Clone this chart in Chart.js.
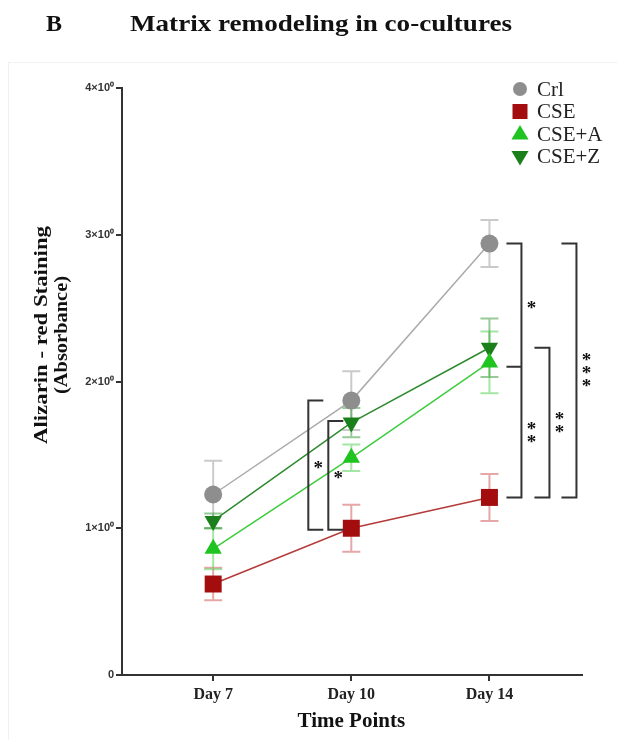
<!DOCTYPE html>
<html><head><meta charset="utf-8">
<script src="https://cdn.jsdelivr.net/npm/chart.js@4/dist/chart.umd.min.js"></script>
<style>html,body{margin:0;padding:0;background:#fff;}#wrap{width:617px;height:740px;position:relative}</style>
</head><body><div id="wrap"><canvas id="c" width="617" height="740"></canvas></div>
<script>
// ---- data ----
const days = ['Day 7', 'Day 10', 'Day 14'];
const seriesNames = ['Crl', 'CSE', 'CSE+A', 'CSE+Z'];
const crl = [1.23, 1.87, 2.94];
const crlErr = [0.23, 0.20, 0.16];
const cse = [0.62, 1.00, 1.21];
const cseErr = [0.11, 0.16, 0.16];
const cseA = [0.86, 1.48, 2.13];
const cseAErr = [0.14, 0.09, 0.21];
const cseZ = [1.05, 1.72, 2.23];
const cseZErr = [0.05, 0.10, 0.20];
const yTicks = [0, 1, 2, 3, 4];
const yTickLabels = ['0', '1×10⁰', '2×10⁰', '3×10⁰', '4×10⁰'];
// significance brackets
const sigDay = [1, 1, 2, 2, 2];
const sigTop = [1.87, 1.73, 2.94, 2.23, 2.94];
const sigBottom = [0.99, 0.99, 1.21, 1.21, 1.21];
const sigMid = [null, null, 2.10, null, null];
const sigLabels = [['*'], ['*'], ['*', '**'], ['**'], ['***']];
const titleText = 'Matrix remodeling in co-cultures';
const panelLetter = 'B';
const yTitleLines = ['Alizarin - red Staining', '(Absorbance)'];
const xTitle = 'Time Points';

// ---- styles ----
const colors = {
  Crl: {pt: '#8e8e8e', line: '#ababab', err: 'rgba(180,180,180,0.7)'},
  CSE: {pt: '#a30d0d', line: '#b53a3a', err: 'rgba(215,120,120,0.65)'},
  'CSE+A': {pt: '#20c420', line: '#3ccc3c', err: 'rgba(90,210,90,0.55)'},
  'CSE+Z': {pt: '#1b801b', line: '#2e8a2e', err: 'rgba(50,150,50,0.5)'}
};
const styles = {
  Crl: {pointStyle: 'circle', radius: 9, rotation: 0},
  CSE: {pointStyle: 'rect', radius: 12, rotation: 0},
  'CSE+A': {pointStyle: 'triangle', radius: 10, rotation: 0},
  'CSE+Z': {pointStyle: 'triangle', radius: 10, rotation: 180}
};
const sigLineX = [-43, -23, 32, 60, 87];
const sigArm = [15, 15, -15, -15, -15];
const serif = '"Liberation Serif", "Times New Roman", serif';

const values = [crl, cse, cseA, cseZ];
const errs = [crlErr, cseErr, cseAErr, cseZErr];

const datasets = seriesNames.map((name, k) => ({
  label: name,
  data: values[k].map((v, i) => ({x: i, y: v})),
  err: errs[k],
  borderColor: colors[name].line,
  backgroundColor: colors[name].pt,
  pointBackgroundColor: colors[name].pt,
  pointBorderColor: colors[name].pt,
  pointBorderWidth: 0,
  borderWidth: 1.5,
  pointStyle: styles[name].pointStyle,
  pointRadius: styles[name].radius,
  pointRotation: styles[name].rotation,
  pointHoverRadius: styles[name].radius,
  tension: 0
}));

const errorBars = {
  id: 'errorBars',
  beforeDatasetsDraw(chart) {
    const ctx = chart.ctx, xs = chart.scales.x, ys = chart.scales.y;
    ctx.save();
    chart.data.datasets.forEach(ds => {
      ctx.strokeStyle = colors[ds.label].err;
      ctx.lineWidth = 2;
      ds.data.forEach((p, i) => {
        const x = xs.getPixelForValue(p.x);
        const yt = ys.getPixelForValue(p.y + ds.err[i]);
        const yb = ys.getPixelForValue(p.y - ds.err[i]);
        ctx.beginPath();
        ctx.moveTo(x, yt); ctx.lineTo(x, yb);
        ctx.moveTo(x - 9, yt); ctx.lineTo(x + 9, yt);
        ctx.moveTo(x - 9, yb); ctx.lineTo(x + 9, yb);
        ctx.stroke();
      });
    });
    ctx.restore();
  }
};

function drawStars(ctx, x, yc, label) {
  ctx.font = 'bold 19px ' + serif;
  ctx.fillStyle = '#111';
  ctx.textAlign = 'center';
  ctx.textBaseline = 'alphabetic';
  const m = ctx.measureText('*');
  const off = (m.actualBoundingBoxAscent - m.actualBoundingBoxDescent) / 2;
  const n = label.length, gap = 13;
  for (let j = 0; j < n; j++) {
    const y = yc + (j - (n - 1) / 2) * gap;
    ctx.fillText('*', x, y + off);
  }
}

const brackets = {
  id: 'brackets',
  afterDatasetsDraw(chart) {
    const ctx = chart.ctx, xs = chart.scales.x, ys = chart.scales.y;
    ctx.save();
    ctx.strokeStyle = '#333';
    ctx.lineWidth = 2;
    sigDay.forEach((d, k) => {
      const xl = xs.getPixelForValue(d) + sigLineX[k];
      const armEnd = xl + sigArm[k];
      const yt = ys.getPixelForValue(sigTop[k]);
      const yb = ys.getPixelForValue(sigBottom[k]);
      ctx.beginPath();
      ctx.moveTo(armEnd, yt); ctx.lineTo(xl, yt); ctx.lineTo(xl, yb); ctx.lineTo(armEnd, yb);
      if (sigMid[k] !== null) {
        const ym = ys.getPixelForValue(sigMid[k]);
        ctx.moveTo(xl, ym); ctx.lineTo(armEnd, ym);
      }
      ctx.stroke();
      const sx = xl + 10;
      if (sigMid[k] !== null) {
        const ym = ys.getPixelForValue(sigMid[k]);
        drawStars(ctx, sx, (yt + ym) / 2, sigLabels[k][0]);
        drawStars(ctx, sx, (ym + yb) / 2, sigLabels[k][1]);
      } else {
        drawStars(ctx, sx, (yt + yb) / 2, sigLabels[k][0]);
      }
    });
    ctx.restore();
  }
};

function fitText(ctx, text, x, y, targetW, align) {
  const w = ctx.measureText(text).width;
  const s = targetW / w;
  ctx.save();
  ctx.translate(x, y);
  ctx.scale(s, 1);
  ctx.textAlign = align;
  ctx.fillText(text, 0, 0);
  ctx.restore();
}

function drawMarker(ctx, name, x, y, r) {
  ctx.fillStyle = colors[name].pt;
  ctx.beginPath();
  const st = styles[name];
  if (st.pointStyle === 'circle') {
    ctx.arc(x, y, r, 0, Math.PI * 2);
  } else if (st.pointStyle === 'rect') {
    ctx.rect(x - r, y - r, 2 * r, 2 * r);
  } else {
    const dir = st.rotation === 180 ? 1 : -1;
    ctx.moveTo(x, y + dir * r);
    ctx.lineTo(x - r * 0.95, y - dir * r * 0.6);
    ctx.lineTo(x + r * 0.95, y - dir * r * 0.6);
    ctx.closePath();
  }
  ctx.fill();
}

const decorations = {
  id: 'decorations',
  afterDraw(chart) {
    const ctx = chart.ctx, xs = chart.scales.x, ca = chart.chartArea;
    ctx.save();
    // faint frame
    ctx.strokeStyle = '#f1f1f1';
    ctx.lineWidth = 1;
    ctx.strokeRect(8.5, 62.5, 620, 700);
    // title
    ctx.fillStyle = '#111';
    ctx.textBaseline = 'alphabetic';
    ctx.font = 'bold 24px ' + serif;
    ctx.textAlign = 'left';
    ctx.fillText(panelLetter, 46, 31);
    fitText(ctx, titleText, 130, 31, 382, 'left');
    // y title
    ctx.font = 'bold 19px ' + serif;
    ctx.save();
    ctx.translate(42, 335);
    ctx.rotate(-Math.PI / 2);
    ctx.textBaseline = 'middle';
    fitText(ctx, yTitleLines[0], 0, 0, 218, 'center');
    fitText(ctx, yTitleLines[1], 0, 20, 118, 'center');
    ctx.restore();
    // x title
    ctx.font = 'bold 21px ' + serif;
    ctx.textAlign = 'center';
    ctx.textBaseline = 'middle';
    ctx.fillText(xTitle, (xs.getPixelForValue(0) + xs.getPixelForValue(2)) / 2, 722);
    // legend
    const lx = 520, ly0 = 89, lgap = 22.5;
    seriesNames.forEach((name, k) => {
      const y = ly0 + k * lgap;
      const r = name === 'Crl' ? 7 : (name === 'CSE' ? 7.5 : 9);
      drawMarker(ctx, name, lx, y, r);
      ctx.fillStyle = '#222';
      ctx.font = '21px ' + serif;
      ctx.textAlign = 'left';
      ctx.textBaseline = 'middle';
      ctx.fillText(name, lx + 17, y + 1);
    });
    ctx.restore();
  }
};

new Chart(document.getElementById('c'), {
  type: 'line',
  data: {datasets},
  options: {
    responsive: false,
    devicePixelRatio: 1,
    animation: false,
    layout: {padding: {top: 88, right: 35, left: 0, bottom: 0}},
    plugins: {legend: {display: false}, tooltip: {enabled: false}},
    scales: {
      x: {
        type: 'linear', min: -0.66, max: 2.67,
        afterBuildTicks: s => { s.ticks = days.map((d, i) => ({value: i})); },
        afterFit: s => { s.height = 65; },
        ticks: {
          callback: v => days[v],
          color: '#222',
          font: {family: serif, weight: 'bold', size: 16},
          padding: 4, maxRotation: 0, autoSkip: false
        },
        grid: {drawOnChartArea: false, drawTicks: true, tickLength: 6, color: '#333', lineWidth: 2},
        border: {display: true, color: '#333', width: 2}
      },
      y: {
        type: 'linear', min: 0, max: 4,
        afterBuildTicks: s => { s.ticks = yTicks.map(v => ({value: v})); },
        afterFit: s => { s.width = 122; },
        ticks: {
          callback: v => yTickLabels[yTicks.indexOf(v)],
          color: '#333',
          font: {family: '"Liberation Sans", Arial, sans-serif', weight: 'bold', size: 11},
          padding: 2
        },
        grid: {drawOnChartArea: false, drawTicks: true, tickLength: 6, color: '#333', lineWidth: 2},
        border: {display: true, color: '#333', width: 2}
      }
    }
  },
  plugins: [errorBars, brackets, decorations]
});
</script>
</body></html>
